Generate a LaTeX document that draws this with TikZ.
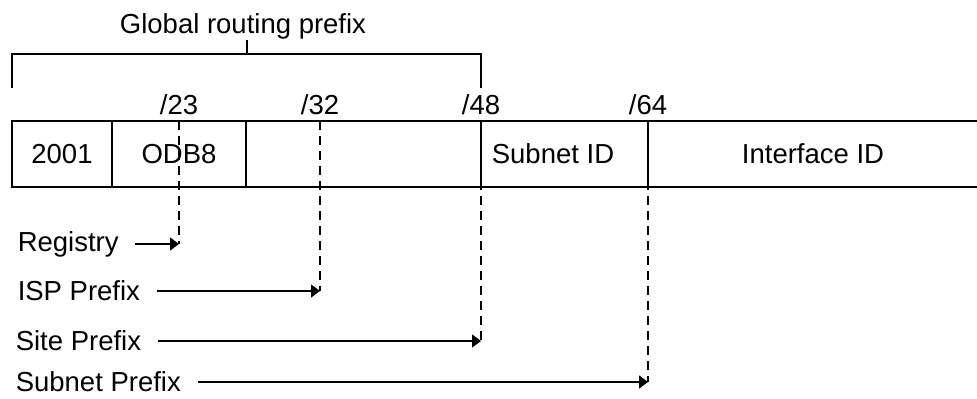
\documentclass[tikz,border=0pt]{standalone}
\usepackage{fontspec}
\setmainfont{Liberation Sans}
\usetikzlibrary{arrows.meta}

\begin{document}
\begin{tikzpicture}[x=0.5pt,y=-0.5pt,line width=.75pt,
  every node/.style={font=\fontsize{13.75}{16}\selectfont},
  lbl/.style={anchor=west,inner sep=0pt},
  cut/.style={dash pattern=on 4.5pt off 3pt},
  ptr/.style={-{Triangle[length=4.5pt,width=6.5pt]},shorten <=8pt}]

\useasboundingbox (0,0) rectangle (977,398);

%bracket over the global routing prefix
\draw (12,88) -- (12,54) -- (481,54) -- (481,88);
\draw (247,54) -- (247,40);
\node (grp) at (243,26) {Global routing prefix};

%address box
\draw (977,121) -- (12,121) -- (12,187) -- (977,187);
\draw (112,121) -- (112,187);
\draw (246,121) -- (246,187);
\draw (481,121) -- (481,187);
\draw (648,121) -- (648,187);

%fields
\node (f2001) at (62,154) {2001};
\node (fodb) at (179,154) {ODB8};
\node (fsub) at (553,154) {Subnet ID};
\node (fint) at (813,154) {Interface ID};

%prefix lengths
\node (p23) at (179,105) {/23};
\node (p32) at (320,105) {/32};
\node (p48) at (481,105) {/48};
\node (p64) at (648,105) {/64};

%cut lines
\coordinate (c23) at (179,244);
\coordinate (c32) at (320,291);
\coordinate (c48) at (481,341);
\coordinate (c64) at (648,382);
\draw [cut] (179,121) -- (c23);
\draw [cut] (320,121) -- (c32);
\draw [cut] (481,121) -- (c48);
\draw [cut] (648,121) -- (c64);

%prefix names
\node [lbl] (reg) at (17,244) {Registry};
\node [lbl] (isp) at (17,291) {ISP Prefix};
\node [lbl] (site) at (15,341) {Site Prefix};
\node [lbl] (subnet) at (15,382) {Subnet Prefix};

%arrows
\draw [ptr] (reg) -- (c23);
\draw [ptr] (isp) -- (c32);
\draw [ptr] (site) -- (c48);
\draw [ptr] (subnet) -- (c64);

\end{tikzpicture}
\end{document}
